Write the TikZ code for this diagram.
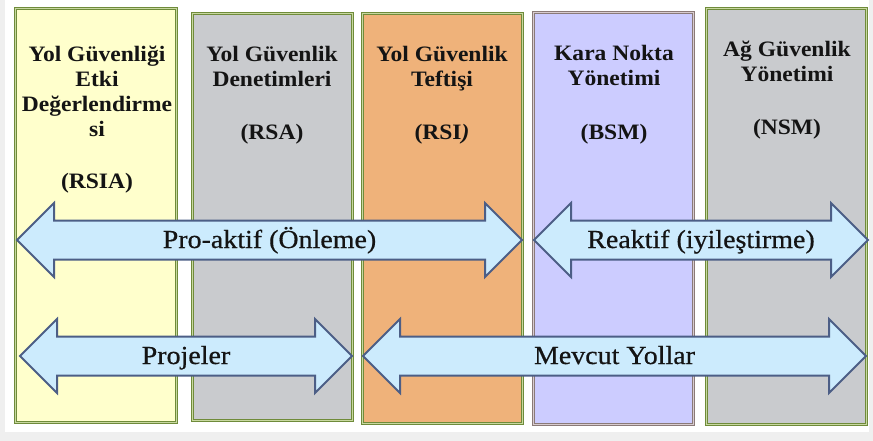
\documentclass[tikz,border=0pt]{standalone}
\usepackage{fontspec}
\usetikzlibrary{shapes.arrows}
\newfontfamily\diafont[FakeStretch=1.07]{Liberation Serif}
\newfontfamily\arrfont[FakeStretch=1.075,FakeBold=0.6]{Liberation Serif}
\definecolor{bgyellow}{HTML}{FFFFCC}
\definecolor{bggray}{HTML}{C9CBCE}
\definecolor{bgorange}{HTML}{EFB27A}
\definecolor{bglav}{HTML}{CCCCFF}
\definecolor{bordgreen}{HTML}{6F8B3A}
\definecolor{bordinner}{HTML}{C8D8A0}
\definecolor{bordmauve}{HTML}{8A7A78}
\definecolor{bordinnerm}{HTML}{D8CCD0}
\definecolor{arrfill}{HTML}{CCEBFD}
\definecolor{arrline}{HTML}{4C5E86}
\definecolor{txt}{HTML}{141414}
\definecolor{pageedge}{HTML}{EFEFEF}
\tikzset{
  colbox/.style={draw=bordgreen, double=bordinner, line width=1.1pt, double distance=1.1pt, inner sep=0pt},
  coltitle/.style={font=\diafont\bfseries\fontsize{22}{25}\selectfont, text=txt, align=center, anchor=base, inner sep=0pt},
  blockarrow/.style={double arrow, draw=arrline, fill=arrfill, line width=2pt,
     double arrow head extend=17.5pt, double arrow tip angle=90, double arrow head indent=0pt,
     text height=16.5pt, text depth=0.5pt, inner ysep=10pt, inner xsep=0pt,
     font=\arrfont\fontsize{26}{28}\selectfont, text=txt}
}
\begin{document}
\begin{tikzpicture}[x=1pt,y=-1pt]
\useasboundingbox (0,0) rectangle (873,441);
\fill[pageedge] (0,0) rectangle (873,441);
\fill[white] (5,0) rectangle (869,432);
% columns
\node[colbox, fill=bgyellow, minimum width=161pt, minimum height=414pt] (b1) at (96,215.5) {};
\node[colbox, fill=bggray, minimum width=160pt, minimum height=407pt] (b2) at (272.5,217) {};
\node[colbox, fill=bgorange, minimum width=160pt, minimum height=410pt] (b3) at (442.5,218.5) {};
\node[colbox, draw=bordmauve, double=bordinnerm, fill=bglav, minimum width=160pt, minimum height=412pt] (b4) at (613.5,218.5) {};
\node[colbox, fill=bggray, minimum width=160pt, minimum height=416pt] (b5) at (786.5,216.5) {};
% titles (anchor base = baseline of the last line)
\node[coltitle] (t1) at (97,137) {Yol Güvenliği\\Etki\\Değerlendirme\\si};
\node[coltitle] (a1) at (97,189) {(RSIA)};
\node[coltitle] (t2) at (272,87) {Yol Güvenlik\\Denetimleri};
\node[coltitle] (a2) at (272,140) {(RSA)};
\node[coltitle] (t3) at (442,87) {Yol Güvenlik\\Teftişi};
\node[coltitle] (a3) at (442,140) {(RSI\textit{)}};
\node[coltitle] (t4) at (614,86) {Kara Nokta\\Yönetimi};
\node[coltitle] (a4) at (614,140) {(BSM)};
\node[coltitle] (t5) at (787,82) {Ağ Güvenlik\\Yönetimi};
\node[coltitle] (a5) at (787,135) {(NSM)};
% arrows
\node[blockarrow, minimum height=505pt] (proaktif) at (269.5,240) {Pro-aktif (Önleme)};
\node[blockarrow, minimum height=334pt] (reaktif) at (701,240) {Reaktif (iyileştirme)};
\node[blockarrow, minimum height=332pt] (projeler) at (186,356) {Projeler};
\node[blockarrow, minimum height=503pt] (mevcut) at (614.5,356) {Mevcut Yollar};
\end{tikzpicture}
\end{document}
